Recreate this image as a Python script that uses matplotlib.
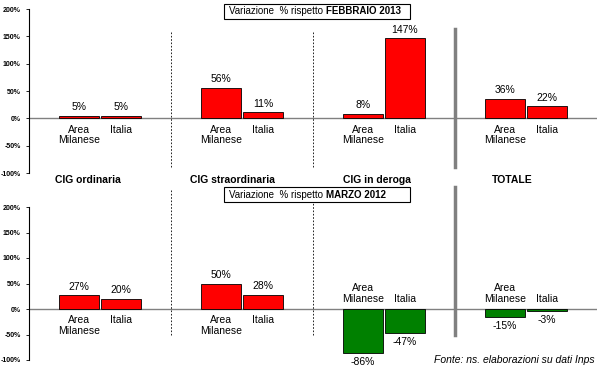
import numpy as np
import matplotlib.pyplot as plt
from matplotlib.patches import Rectangle

plt.rcParams['font.family'] = ['Liberation Sans', 'DejaVu Sans']

# Dati
categorie = ["CIG ordinaria", "CIG straordinaria", "CIG in deroga", "TOTALE"]
serie = ["Area\nMilanese", "Italia"]
feb2013_area = [5, 56, 8, 36]
feb2013_italia = [5, 11, 147, 22]
mar2012_area = [27, 50, -86, -15]
mar2012_italia = [20, 28, -47, -3]
yticks = [-100, -50, 0, 50, 100, 150, 200]

W, H = 600, 369
fig = plt.figure(figsize=(W / 100, H / 100), dpi=100)


def fx(x):
    return x / W


def fy(y):
    return 1 - y / H


def pannello(rect, area, italia, ymin_div, ymax_div):
    ax = fig.add_axes(rect)
    x = np.arange(len(categorie)) + 0.5
    w = 0.28
    off = 0.147
    for i in range(len(categorie)):
        for j, (val, dx) in enumerate([(area[i], -off), (italia[i], off)]):
            col = "#ff0000" if val >= 0 else "#008000"
            ax.bar(x[i] + dx, val, width=w, color=col, edgecolor="black", linewidth=0.6, zorder=3)
            # etichetta valore
            if val >= 0:
                ax.annotate(f"{val}%", (x[i] + dx, val), xytext=(0, 2.5), textcoords="offset points",
                            ha="center", va="bottom", fontsize=7.5)
            else:
                ax.annotate(f"{val}%", (x[i] + dx, val), xytext=(0, -3), textcoords="offset points",
                            ha="center", va="top", fontsize=7.5)
            # etichetta serie (sotto o sopra l'asse)
            neg = area[i] < 0
            ax.annotate(serie[j], (x[i] + dx, 0), xytext=(0, 3.5 if neg else -4.5),
                        textcoords="offset points", ha="center", va="bottom" if neg else "top",
                        fontsize=7.5, linespacing=1.1)
    ax.axhline(0, color="#808080", linewidth=1, zorder=2)
    # separatori
    for b in [1, 2]:
        ax.axvline(b, ymin=ymin_div, ymax=ymax_div, color="black", linewidth=0.6,
                   linestyle=(0, (2, 2)), clip_on=False)
    ax.axvline(3, ymin=ymin_div, ymax=ymax_div + 0.02, color="#808080", linewidth=2.5, clip_on=False)
    ax.set_xlim(0, 4)
    ax.set_ylim(-100, 200)
    ax.set_yticks(yticks)
    ax.set_yticklabels([f"{v}%" for v in yticks], fontsize=5, fontweight="bold")
    ax.tick_params(axis="y", length=2, width=0.6, pad=4)
    ax.set_xticks([])
    for s in ["top", "right", "bottom"]:
        ax.spines[s].set_visible(False)
    ax.spines["left"].set_linewidth(0.8)
    return ax


ax1 = pannello([fx(29), fy(173), fx(597) - fx(29), (173 - 9) / H],
               feb2013_area, feb2013_italia, 0.037, 0.86)
ax2 = pannello([fx(29), fy(360), fx(597) - fx(29), (360 - 207) / H],
               mar2012_area, mar2012_italia, 0.163, 1.11)

# Titoli categorie
for xc, t in zip([88, 233, 377, 512], categorie):
    fig.text(fx(xc), fy(180), t, ha="center", va="center", fontsize=7.5, fontweight="bold")

# Riquadri titolo
for y0, mese in [(4, "FEBBRAIO 2013"), (187, "MARZO 2012")]:
    fig.patches.append(Rectangle((fx(224), fy(y0 + 15)), fx(410) - fx(224), 15 / H,
                                 transform=fig.transFigure, facecolor="white",
                                 edgecolor="black", linewidth=0.8, zorder=5))
    fig.text(fx(326), fy(y0 + 7.5), "Variazione  % rispetto ", ha="right", va="center",
             fontsize=7, zorder=6)
    fig.text(fx(326), fy(y0 + 7.5), mese, ha="left", va="center", fontsize=7,
             fontweight="bold", zorder=6)

fig.text(fx(595), fy(360), "Fonte: ns. elaborazioni su dati Inps", ha="right", va="center",
         fontsize=7.5, style="italic")

plt.savefig("out.png", dpi=100)
